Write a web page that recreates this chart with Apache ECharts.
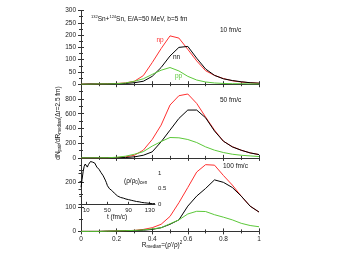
<!DOCTYPE html>
<html><head><meta charset="utf-8">
<script src="https://cdn.jsdelivr.net/npm/echarts@6/dist/echarts.min.js"></script>
<style>html,body{margin:0;padding:0;background:#fff}#c{width:339px;height:262px}</style>
</head><body><div id="c"></div>
<script>
const R = [0,0.05,0.1,0.15,0.2,0.25,0.3,0.35,0.4,0.45,0.5,0.55,0.6,0.65,0.7,0.75,0.8,0.85,0.9,0.95,1.0];
const np10 = [0,1,1,2,3,5,12,35,88,145,197,188,142,95,55,36,23,14,9,6,4];
const nn10 = [0,1,1,1,2,3,6,12,32,68,115,150,154,106,62,36,22,15,10,6,4];
const pp10 = [0,0,1,1,2,5,12,22,40,57,68,54,32,17,9,5,3,2,2,1,1];
const np50 = [0,0,1,2,5,14,36,105,250,445,718,845,868,740,555,377,227,152,105,68,45];
const nn50 = [0,0,0,1,2,5,14,36,82,218,377,536,650,650,545,365,227,150,104,68,45];
const pp50 = [0,0,1,2,9,23,50,85,160,222,277,273,250,209,150,105,73,50,36,27,18];
const np100 = [0,0,0,1,2,3,4,8,15,29,61,117,179,242,272,270,228,189,144,103,79];
const nn100 = [0,0,0,1,1,2,3,5,8,15,29,47,103,144,175,210,200,179,144,103,79];
const pp100 = [0,0,0,1,2,3,4,6,10,15,31,47,71,82,81,68,58,47,33,24,19];
const tInset = [0,2,4,6,8,10,12,14,16,18,20,22,24,26,28,30,32,34,36,38,40,42,44,46,48,50,52,54,56,58,60,63,66,69,72,75,80,85,90,95,100,105,110,115,120,125,130,135,140];
const rhoInset = [0.55,0.8,1.05,1.22,1.3,1.25,1.2,1.28,1.32,1.38,1.4,1.36,1.38,1.33,1.28,1.2,1.22,1.13,1.1,1.02,0.97,0.92,0.85,0.78,0.7,0.6,0.55,0.5,0.48,0.45,0.4,0.36,0.31,0.27,0.24,0.22,0.2,0.17,0.15,0.13,0.11,0.09,0.08,0.06,0.05,0.04,0.03,0.02,0.02];
const xTicks = [0,0.2,0.4,0.6,0.8,1];
const yMax = [300,1000,300];
const yStep = [50,200,100];
const insetXLabels = [10,50,90,130];

const RED='#ff3030', BLK='#000', GRN='#5cc83a', AX='#333';
const FONT='Liberation Sans, Arial, sans-serif';
const tops=[10.6,84.3,157.8], H=73.6;
const grids = tops.map(t=>({left:81,width:178,top:t,height:H}));
grids.push({left:81,width:74,top:157.8,height:46.5});

const xAxes=[], yAxes=[], series=[];
const lineAx={show:true,lineStyle:{color:AX,width:1}};
for(let i=0;i<3;i++){
  xAxes.push({type:'value',gridIndex:i,min:0,max:1,interval:0.2,position:'bottom',
    axisLine:lineAx,axisTick:{show:true,inside:true,length:3,lineStyle:{color:AX}},
    minorTick:{show:true,splitNumber:2,length:2,lineStyle:{color:AX}},
    splitLine:{show:false},
    axisLabel:{show:i===2,fontSize:6.5,color:'#222',fontFamily:FONT,margin:4,
      formatter:v=>String(Math.round(v*10)/10)}});
  xAxes.push({type:'value',gridIndex:i,min:0,max:1,interval:0.2,position:'top',
    axisLine:lineAx,axisTick:{show:true,inside:true,length:3,lineStyle:{color:AX}},
    minorTick:{show:true,splitNumber:2,length:2,lineStyle:{color:AX}},
    splitLine:{show:false},axisLabel:{show:false}});
  yAxes.push({type:'value',gridIndex:i,min:0,max:yMax[i],interval:yStep[i],position:'left',
    axisLine:lineAx,axisTick:{show:true,inside:true,length:3,lineStyle:{color:AX}},
    minorTick:{show:true,splitNumber:2,length:2,lineStyle:{color:AX}},
    splitLine:{show:false},
    axisLabel:{fontSize:6.5,color:'#222',fontFamily:FONT,margin:5,showMaxLabel:i===0}});
  yAxes.push({type:'value',gridIndex:i,min:0,max:yMax[i],interval:yStep[i],position:'right',
    axisLine:lineAx,axisTick:{show:true,inside:true,length:3,lineStyle:{color:AX}},
    minorTick:{show:true,splitNumber:2,length:2,lineStyle:{color:AX}},
    splitLine:{show:false},axisLabel:{show:false}});
}
// inset axes
xAxes.push({type:'value',gridIndex:3,min:0,max:140,position:'bottom',
  axisLine:lineAx,axisTick:{show:true,inside:true,length:2.5,customValues:insetXLabels,lineStyle:{color:AX}},
  splitLine:{show:false},
  axisLabel:{fontSize:6,color:'#222',fontFamily:FONT,margin:3,customValues:insetXLabels}});
yAxes.push({type:'value',gridIndex:3,min:0,max:1.5,interval:0.5,position:'right',
  axisLine:lineAx,axisTick:{show:true,inside:true,length:2.5,lineStyle:{color:AX}},
  minorTick:{show:true,splitNumber:2,length:1.5,lineStyle:{color:AX}},
  splitLine:{show:false},
  axisLabel:{fontSize:6,color:'#222',fontFamily:FONT,margin:3,showMaxLabel:false}});

const sets=[[np10,nn10,pp10],[np50,nn50,pp50],[np100,nn100,pp100]];
const cols=[RED,BLK,GRN];
sets.forEach((s,i)=>{
  [2,1,0].forEach(k=>{
    series.push({type:'line',xAxisIndex:2*i,yAxisIndex:2*i,showSymbol:false,silent:true,
      data:R.map((r,j)=>[r,s[k][j]]),lineStyle:{color:cols[k],width:1},z:3+k});
  });
});
series.push({type:'line',xAxisIndex:6,yAxisIndex:6,showSymbol:false,silent:true,
  data:tInset.map((t,j)=>[t,rhoInset[j]]),lineStyle:{color:BLK,width:1}});

const txt=(x,y,text,opt={})=>({type:'text',x,y,z:50,style:Object.assign({text,fontSize:6.5,fontFamily:FONT,fill:'#111',
  align:'left',verticalAlign:'middle'},opt)});

const graphic=[
  txt(91,19,'{s|132}Sn+{s|124}Sn, E/A=50 MeV, b=5 fm',{rich:{s:{fontSize:4,padding:[0,0,4,0],fontFamily:FONT,fill:'#111'}}}),
  txt(220,30,'10 fm/c'),
  txt(220,100,'50 fm/c'),
  txt(223,166,'100 fm/c'),
  txt(160,40.5,'np',{fill:RED,align:'center'}),
  txt(176.5,57,'nn',{align:'center'}),
  txt(178.5,76,'pp',{fill:GRN,align:'center'}),
  txt(124,181,'(ρ/ρ{s|0}){s|cen}',{rich:{s:{fontSize:4.5,padding:[4,0,0,0],fontFamily:FONT,fill:'#111'}}}),
  txt(117,217,'t (fm/c)',{align:'center'}),
  txt(162,245,'R{s|median}=(ρ\'/ρ){p|2}',{align:'center',rich:{s:{fontSize:4.5,padding:[4,0,0,0],fontFamily:FONT,fill:'#111'},p:{fontSize:4.5,padding:[0,0,4,0],fontFamily:FONT,fill:'#111'}}}),
  {type:'text',x:58,y:123,rotation:Math.PI/2,z:50,style:{text:'dN{s|pair}/dR{s|median}(Δr=2.5 fm)',fontSize:6.5,fontFamily:FONT,fill:'#111',align:'center',verticalAlign:'middle',
    rich:{s:{fontSize:4.5,padding:[4,0,0,0],fontFamily:FONT,fill:'#111'}}}}
];

const chart=echarts.init(document.getElementById('c'),null,{renderer:'canvas'});
chart.setOption({animation:false,backgroundColor:'#fff',grid:grids,xAxis:xAxes,yAxis:yAxes,series,graphic});
</script></body></html>
